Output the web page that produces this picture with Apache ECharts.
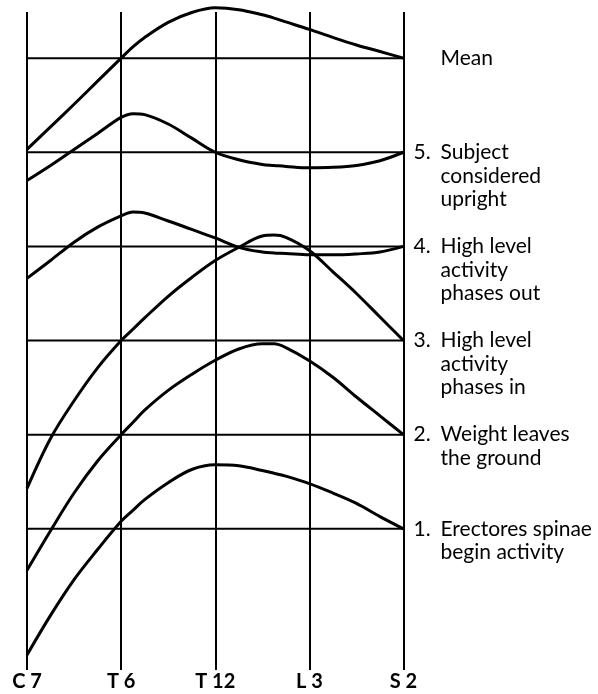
<!DOCTYPE html>
<html><head><meta charset="utf-8">
<script src="https://cdn.jsdelivr.net/npm/echarts@6/dist/echarts.min.js"></script>
<style>html,body{margin:0;padding:0;background:#fff}#c{width:598px;height:694px}</style>
</head><body><div id="c"></div>
<script>
// Vertebral levels along the x axis
const tickLabels = ['C 7', 'T 6', 'T 12', 'L 3', 'S 2'];
// Sample positions along the spine (0 = C7 ... 4 = S2)
const sampleX = [0, 0.25, 0.5, 0.75, 1, 1.125, 1.25, 1.5, 1.75, 2, 2.25, 2.5, 2.625, 2.75, 3, 3.25, 3.5, 3.75, 4];
// Each curve's values relative to its own baseline (1 unit = one grid spacing)
const curve1 = [-1.34, -0.92, -0.54, -0.22, 0.08, 0.196, 0.31, 0.49, 0.63, 0.68, 0.67, 0.62, 0.59, 0.56, 0.48, 0.38, 0.27, 0.13, 0];
const curve2 = [-1.44, -1.02, -0.62, -0.28, 0, 0.13, 0.26, 0.47, 0.64, 0.79, 0.91, 0.965, 0.965, 0.925, 0.785, 0.61, 0.40, 0.20, 0];
const curve3 = [-1.57, -1.04, -0.64, -0.29, 0, 0.12, 0.24, 0.47, 0.67, 0.85, 0.99, 1.11, 1.12, 1.097, 0.957, 0.73, 0.50, 0.25, 0];
const curve4 = [-0.34, -0.15, 0.045, 0.205, 0.325, 0.365, 0.355, 0.27, 0.18, 0.09, -0.01, -0.06, -0.07, -0.075, -0.09, -0.09, -0.08, -0.06, 0];
const curve5 = [-0.30, -0.14, 0.03, 0.20, 0.37, 0.41, 0.40, 0.30, 0.15, 0, -0.08, -0.13, -0.14, -0.15, -0.165, -0.16, -0.14, -0.09, 0];
const curveMean = [-0.97, -0.73, -0.49, -0.245, 0, 0.12, 0.22, 0.38, 0.485, 0.535, 0.515, 0.46, 0.425, 0.385, 0.305, 0.22, 0.14, 0.07, 0];
// Baseline levels (bottom to top) and their labels
const levels = [0, 1, 2, 3, 4, 5];
const labelNumbers = ['1.', '2.', '3.', '4.', '5.', ''];
const labelLines = [
  ['Erectores spinae', 'begin activity'],
  ['Weight leaves', 'the ground'],
  ['High level', 'activity', 'phases in'],
  ['High level', 'activity', 'phases out'],
  ['Subject', 'considered', 'upright'],
  ['Mean']
];

const curves = [curve1, curve2, curve3, curve4, curve5, curveMean];
const FONT = 'Lato';
const chart = echarts.init(document.getElementById('c'));
const series = [];
curves.forEach((vals, k) => {
  series.push({
    type: 'line', data: [[0, levels[k]], [4, levels[k]]], symbol: 'none',
    lineStyle: { color: '#000', width: 2 }, silent: true, z: 2
  });
  series.push({
    type: 'line', data: sampleX.map((x, i) => [x, levels[k] + vals[i]]), smooth: 0.35,
    symbol: 'none', clip: false, lineStyle: { color: '#000', width: 3 }, z: 3
  });
});

chart.setOption({
  animation: false,
  grid: { left: 27, right: 194.5, top: 12, bottom: 24 },
  xAxis: {
    type: 'value', min: 0, max: 4, interval: 1,
    axisLine: { show: false }, axisTick: { show: false },
    splitLine: { show: true, lineStyle: { color: '#000', width: 2 } },
    axisLabel: {
      formatter: v => tickLabels[Math.round(v)], color: '#000', fontFamily: FONT,
      fontSize: 20, fontWeight: 'bold', margin: 2, showMinLabel: true, showMaxLabel: true
    }
  },
  yAxis: { type: 'value', min: -1.5, max: 5.49, show: false },
  series
});

const gfx = [];
labelLines.forEach((lines, k) => {
  const p = chart.convertToPixel({ gridIndex: 0 }, [4, levels[k]]);
  const base = { fill: '#000', fontFamily: FONT, fontSize: 21, verticalAlign: 'middle', align: 'left' };
  if (labelNumbers[k]) {
    gfx.push({ type: 'text', x: p[0] + 10, y: p[1], style: Object.assign({ text: labelNumbers[k] }, base) });
  }
  lines.forEach((t, j) => {
    gfx.push({ type: 'text', x: p[0] + 37, y: p[1] + j * 23.5, style: Object.assign({ text: t }, base) });
  });
});
chart.setOption({ graphic: gfx });
</script></body></html>
